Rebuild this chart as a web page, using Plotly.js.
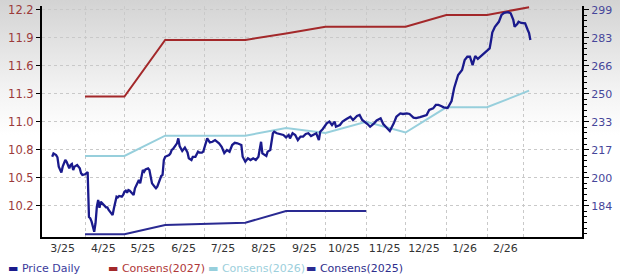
<!DOCTYPE html>
<html>
<head>
<meta charset="utf-8">
<script src="https://cdn.plot.ly/plotly-3.0.1.min.js"></script>
<style>
  html, body { margin: 0; padding: 0; }
  body { width: 620px; height: 279px; background: linear-gradient(to bottom, #d3d3d3 0px, #f3f3f3 90px, #ffffff 135px, #ffffff 279px); }
  #chart { width: 620px; height: 279px; }
</style>
</head>
<body>
<div id="chart"></div>
<script>
// ---- Data ----
const monthMid = ['2025-03-15','2025-04-15','2025-05-15','2025-06-15','2025-07-15','2025-08-15','2025-09-15','2025-10-15','2025-11-15','2025-12-15','2026-01-15','2026-02-15'];
const monthLabels = ['3/25','4/25','5/25','6/25','7/25','8/25','9/25','10/25','11/25','12/25','1/26','2/26'];
const monthStarts = ['2025-04-01','2025-05-01','2025-06-01','2025-07-01','2025-08-01','2025-09-01','2025-10-01','2025-11-01','2025-12-01','2026-01-01','2026-02-01','2026-03-01'];

const leftTickText = ['12.2','11.9','11.6','11.3','11.0','10.8','10.5','10.2'];
const rightTickText = ['299','283','266','250','233','217','200','184'];

const consDates = ['2025-04-01','2025-05-01','2025-06-01','2025-07-01','2025-08-01','2025-09-01','2025-10-01','2025-11-01','2025-12-01','2026-01-01','2026-02-01','2026-03-05'];
const cons2027 = [11.30, 11.30, 11.886, 11.886, 11.886, 11.954, 12.024, 12.024, 12.024, 12.145, 12.145, 12.225];
const cons2026 = [10.685, 10.685, 10.895, 10.895, 10.895, 10.975, 10.923, 11.040, 10.928, 11.189, 11.189, 11.361];
const cons2025Dates = ['2025-04-01','2025-05-01','2025-06-01','2025-07-01','2025-08-01','2025-09-01','2025-10-01','2025-11-01'];
const cons2025 = [9.874, 9.874, 9.970, 9.980, 9.994, 10.115, 10.115, 10.115];

const priceDates = [
'2025-03-07','2025-03-08','2025-03-10','2025-03-11','2025-03-12','2025-03-13','2025-03-14','2025-03-15','2025-03-16','2025-03-17',
'2025-03-18','2025-03-19','2025-03-20','2025-03-21','2025-03-22','2025-03-23','2025-03-24','2025-03-26','2025-03-27','2025-03-28',
'2025-03-29','2025-03-30','2025-04-01','2025-04-02','2025-04-03','2025-04-04','2025-04-05','2025-04-06','2025-04-07','2025-04-08',
'2025-04-09','2025-04-10','2025-04-11','2025-04-12','2025-04-13','2025-04-14','2025-04-15','2025-04-17','2025-04-18','2025-04-19',
'2025-04-21','2025-04-22','2025-04-23','2025-04-24','2025-04-25','2025-04-26','2025-04-27','2025-04-29','2025-04-30','2025-05-01',
'2025-05-02','2025-05-03','2025-05-04','2025-05-05','2025-05-07','2025-05-08','2025-05-09','2025-05-11','2025-05-12','2025-05-13',
'2025-05-14','2025-05-15','2025-05-16','2025-05-17','2025-05-19','2025-05-20','2025-05-21','2025-05-22','2025-05-24','2025-05-25',
'2025-05-26','2025-05-27','2025-05-29','2025-05-30','2025-05-31','2025-06-01','2025-06-02','2025-06-04','2025-06-05','2025-06-06',
'2025-06-07','2025-06-09','2025-06-10','2025-06-11','2025-06-12','2025-06-14','2025-06-16','2025-06-18','2025-06-19','2025-06-21',
'2025-06-22','2025-06-24','2025-06-25','2025-06-26','2025-06-27','2025-06-29','2025-06-30','2025-07-02','2025-07-03','2025-07-05',
'2025-07-07','2025-07-09','2025-07-12','2025-07-14','2025-07-16','2025-07-18','2025-07-20','2025-07-22','2025-07-24','2025-07-26',
'2025-07-29','2025-07-30','2025-08-01','2025-08-03','2025-08-05','2025-08-07','2025-08-09','2025-08-11','2025-08-13','2025-08-14',
'2025-08-17','2025-08-18','2025-08-20','2025-08-22','2025-08-23','2025-08-25','2025-08-27','2025-08-30','2025-09-01','2025-09-03',
'2025-09-04','2025-09-06','2025-09-08','2025-09-10','2025-09-12','2025-09-14','2025-09-16','2025-09-18','2025-09-20','2025-09-22',
'2025-09-24','2025-09-26','2025-09-27','2025-09-29','2025-10-02','2025-10-04','2025-10-06','2025-10-08','2025-10-09','2025-10-12',
'2025-10-14','2025-10-17','2025-10-20','2025-10-22','2025-10-25','2025-10-27','2025-10-29','2025-11-02','2025-11-04','2025-11-07',
'2025-11-09','2025-11-12','2025-11-14','2025-11-17','2025-11-19','2025-11-22','2025-11-24','2025-11-27','2025-11-29','2025-12-02',
'2025-12-04','2025-12-07','2025-12-09','2025-12-12','2025-12-14','2025-12-17','2025-12-19','2025-12-22','2025-12-24','2025-12-26',
'2025-12-28','2025-12-30','2026-01-02','2026-01-05','2026-01-07','2026-01-10','2026-01-13','2026-01-15','2026-01-17','2026-01-19',
'2026-01-21','2026-01-23','2026-01-25','2026-01-27','2026-01-31','2026-02-03','2026-02-04','2026-02-05','2026-02-07','2026-02-10',
'2026-02-12','2026-02-14','2026-02-17','2026-02-19','2026-02-21','2026-02-22','2026-02-24','2026-02-25','2026-02-27','2026-03-02',
'2026-03-04','2026-03-05','2026-03-06'
];
const priceValues = [
212.7,214.6,213.7,212.4,206.9,204.9,203.4,206.9,209.2,210.8,
209.8,207.9,205.9,207.9,208.5,204.9,206.9,207.9,206.9,205.9,
203.0,202.0,202.4,203.0,203.7,177.4,176.6,174.6,170.7,168.7,
173.7,183.4,187.3,182.8,186.3,185.4,184.4,183.0,183.0,181.5,
179.5,178.5,182.5,186.3,189.3,188.9,189.7,189.3,190.3,192.2,
192.8,191.6,193.2,192.8,191.3,190.3,194.2,197.1,199.1,197.1,
202.0,204.9,203.9,205.3,205.9,204.9,201.0,197.1,195.1,194.2,
195.1,197.3,201.4,202.0,210.8,212.7,212.9,213.7,214.7,216.7,
217.3,219.6,220.6,223.5,219.0,216.1,218.1,215.2,211.8,210.8,
212.6,212.7,214.7,215.7,215.2,215.1,215.7,221.9,223.5,221.1,
221.5,222.5,220.6,218.6,214.9,216.7,215.7,219.6,220.9,220.6,
219.6,212.7,209.8,211.8,210.8,211.8,210.8,212.7,221.5,214.7,
213.2,215.7,216.7,226.5,227.4,226.5,226.1,225.5,224.1,225.5,
223.5,226.5,225.5,222.5,224.5,224.5,226.1,226.5,224.9,225.5,
226.5,222.5,227.4,229.0,232.3,233.3,231.3,233.3,230.3,231.3,
233.3,234.9,236.2,234.3,236.6,237.2,234.3,231.9,230.3,232.3,
234.0,235.3,231.9,229.4,227.8,232.3,236.2,238.1,237.8,238.2,
237.8,235.7,235.4,236.0,236.3,237.2,240.2,241.1,243.1,243.1,
242.5,241.7,241.3,245.4,253.1,260.7,263.6,269.5,271.4,271.4,
266.5,271.8,270.1,271.4,274.4,276.3,280.6,285.6,289.0,291.9,
295.9,297.2,297.6,296.9,293.0,289.0,290.6,291.9,291.2,291.0,
287.1,285.3,281.2
];

// ---- Styling ----
const FONT = 'DejaVu Sans, Verdana, sans-serif';
const C_PRICE = '#1a1a8c';
const C_2027 = '#a3282a';
const C_2026 = '#97cfdc';
const C_2025 = '#2a2a92';

const leftStep = 0.29, leftTop = 12.2;
const leftTickVals = leftTickText.map((t, i) => +(leftTop - leftStep * i).toFixed(3));
const rightStep = (299 - 184) / 7;
const rightTickVals = rightTickText.map((t, i) => 299 - rightStep * i);

const traces = [
  {x: consDates, y: cons2027, name: 'Consens(2027)', type: 'scatter', mode: 'lines', line: {color: C_2027, width: 2}, yaxis: 'y'},
  {x: consDates, y: cons2026, name: 'Consens(2026)', type: 'scatter', mode: 'lines', line: {color: C_2026, width: 2}, yaxis: 'y'},
  {x: cons2025Dates, y: cons2025, name: 'Consens(2025)', type: 'scatter', mode: 'lines', line: {color: C_2025, width: 2}, yaxis: 'y'},
  {x: priceDates, y: priceValues, name: 'Price Daily', type: 'scatter', mode: 'lines', line: {color: C_PRICE, width: 2.3}, yaxis: 'y2'}
];

const legendItems = [
  {name: 'Price Daily', dash: C_PRICE, text: '#3b3b9c', px: 6},
  {name: 'Consens(2027)', dash: C_2027, text: '#b03838', px: 106},
  {name: 'Consens(2026)', dash: C_2026, text: '#9ccfdc', px: 206},
  {name: 'Consens(2025)', dash: C_2025, text: '#2e2e8c', px: 304}
];
const plotL = 42, plotW = 540, plotB = 237, plotH = 231;
const annotations = legendItems.map(it => ({
  xref: 'paper', yref: 'paper',
  x: (it.px - plotL) / plotW, y: (plotB - 268) / plotH,
  xanchor: 'left', yanchor: 'middle', showarrow: false,
  text: '<span style="color:' + it.dash + '">▬</span> ' + it.name,
  font: {family: FONT, size: 11, color: it.text}
}));

const layout = {
  width: 620, height: 279,
  margin: {l: 42, r: 38, t: 6, b: 42, pad: 0},
  paper_bgcolor: 'rgba(0,0,0,0)',
  plot_bgcolor: 'rgba(0,0,0,0)',
  showlegend: false,
  font: {family: FONT},
  xaxis: {
    type: 'date',
    range: ['2025-02-27 06:00', '2026-04-14 07:00'],
    tickmode: 'array', tickvals: monthMid, ticktext: monthLabels,
    showgrid: false, ticks: '', zeroline: false,
    showline: true, linecolor: '#000', linewidth: 2,
    tickfont: {family: FONT, size: 11, color: '#333'},
    minor: {tickmode: 'array', tickvals: monthStarts, showgrid: true, gridcolor: '#c9c9c9', griddash: 'dot', gridwidth: 1, ticks: ''}
  },
  yaxis: {
    range: [9.846, 12.238],
    tickmode: 'array', tickvals: leftTickVals, ticktext: leftTickText,
    showgrid: true, gridcolor: '#c9c9c9', griddash: 'dot', gridwidth: 1,
    zeroline: false, ticks: 'outside', ticklen: 4, tickwidth: 1, tickcolor: '#000',
    showline: true, linecolor: '#000', linewidth: 2,
    tickfont: {family: FONT, size: 11.5, color: '#9c3a3a'}
  },
  yaxis2: {
    overlaying: 'y', side: 'right',
    range: [165.62, 301.17],
    tickmode: 'array', tickvals: rightTickVals, ticktext: rightTickText,
    showgrid: false, zeroline: false,
    ticks: 'outside', ticklen: 5, tickwidth: 1, tickcolor: '#000',
    showline: true, linecolor: '#000', linewidth: 2,
    tickfont: {family: FONT, size: 11, color: '#46469a'},
    minor: {tickmode: 'linear', tick0: 184, dtick: rightStep / 5, ticks: 'outside', ticklen: 3, tickcolor: '#000', showgrid: false}
  },
  annotations: annotations
};

Plotly.newPlot('chart', traces, layout, {staticPlot: true, displayModeBar: false});
</script>
</body>
</html>
